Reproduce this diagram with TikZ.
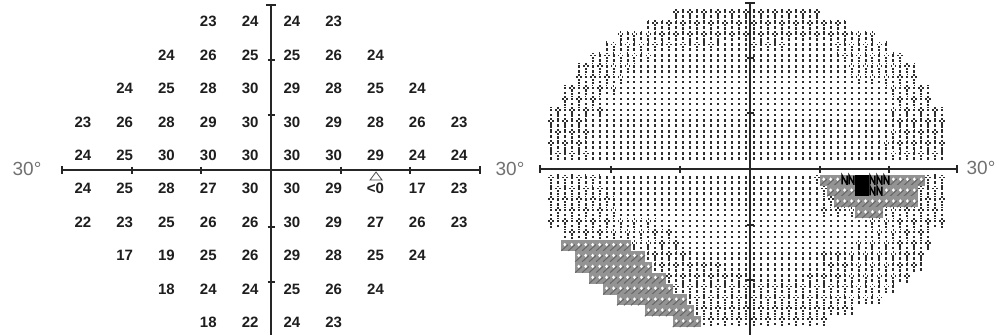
\documentclass[tikz,border=0pt]{standalone}
\usepackage{fontspec}
\setmainfont{Liberation Sans}
\definecolor{numc}{HTML}{1E1E1E}
\definecolor{labc}{HTML}{707070}
\definecolor{dotc}{HTML}{2E2E2E}
\definecolor{hatc}{HTML}{939393}
\definecolor{hatd}{HTML}{666666}
\definecolor{axc}{HTML}{262626}
\newcount\colc
\newcommand\cella[4]{%
  \fill[dotc] ({#1-1},{#2-3.9}) rectangle ({#1+1},{#2-1.3});
  \fill[dotc] ({#1-1},{#2+1.1}) rectangle ({#1+1},{#2+3.7});
}
\newcommand\cellb[4]{%
  \ifodd\numexpr#3+#4\relax
    \cella{#1}{#2}{#3}{#4}%
    \fill[dotc] ({#1-0.8},{#2-5.6}) rectangle ({#1+0.8},{#2-4.4});
  \else
    \fill[dotc] ({#1-0.9},{#2-5.4}) rectangle ({#1+0.9},{#2-3.6});
    \fill[dotc] ({#1-2.9},{#2-3.4}) rectangle ({#1-1.1},{#2-1.6});
    \fill[dotc] ({#1+1.1},{#2-3.4}) rectangle ({#1+2.9},{#2-1.6});
    \fill[dotc] ({#1-1},{#2-1.2}) rectangle ({#1+1},{#2+1.2});
    \fill[dotc] ({#1-1},{#2+2}) rectangle ({#1+1},{#2+4.4});
  \fi
}
\newcommand\cellc[4]{%
  \fill[hatc] ({#1-3.6},{#2-5.5}) rectangle ({#1+3.6},{#2+5.5});
  \draw[hatd, line width=1pt] ({#1-3.5},{#2+5.4}) -- ({#1+3.5},{#2-1});
  \fill[white] (#1,{#2-2.6}) -- ({#1+1.5},{#2-0.8}) -- (#1,{#2+1}) -- ({#1-1.5},{#2-0.8}) -- cycle;
}
\newcommand\celld[4]{%
  \fill[hatc] ({#1-3.6},{#2-5.5}) rectangle ({#1+3.6},{#2+5.5});
  \draw[black, line width=1.5pt] ({#1-2.4},{#2+4.4}) -- ({#1-2.4},{#2-4.4}) -- ({#1+2.4},{#2+4.4}) -- ({#1+2.4},{#2-4.4});
}
\newcommand\celle[4]{%
  \fill[black] ({#1-3.6},{#2-5.5}) rectangle ({#1+3.6},{#2+5.5});
}
\newcommand\frow[3]{%
  \pgfmathsetmacro\ry{(#1<15) ? 156-10.9*(14-#1) : 180+10.9*(#1-15)}%
  \global\colc=#2\relax
  \foreach \lv/\n in {#3}{%
    \foreach \k in {1,...,\n}{%
      \pgfmathsetmacro\cx{(\the\colc<0) ? 746+6.97*(\the\colc+1) : 754+6.97*\the\colc}%
      \csname cell\lv\endcsname{\cx}{\ry}{\the\colc}{#1}%
      \global\advance\colc by 1\relax
    }%
  }%
}
\tikzset{
  num/.style={font=\fontsize{15}{18}\selectfont\bfseries, text=numc, inner sep=0pt},
  lab/.style={font=\fontsize{19}{22}\selectfont, text=labc, inner sep=0pt},
  axis/.style={draw=axc, line width=1.6pt},
  tick/.style={draw=axc, line width=1.2pt}
}
\begin{document}
\begin{tikzpicture}[x=1pt,y=-1pt]
\useasboundingbox (0,0) rectangle (999,335);
% ---------- left panel: numbers ----------
\coordinate (lw) at (62,170);
\coordinate (le) at (480,170);
\coordinate (ln) at (271,5);
\coordinate (ls) at (271,335);
\draw[axis] (lw) -- (le);
\draw[axis] (ln) -- (ls);
\foreach \x in {132,201,341,410} \draw[tick] (\x,166.5) -- (\x,173.5);
\draw[tick] (62,166) -- (62,174);
\draw[tick] (480,166) -- (480,174);
\foreach \y in {60,115,227,282} \draw[tick] (267.5,\y) -- (274.5,\y);
\draw[tick] (266,5) -- (276,5);
\foreach \j/\s/\vals in {0/3/{23,24,24,23},1/2/{24,26,25,25,26,24},2/1/{24,25,28,30,29,28,25,24},
  3/0/{23,26,28,29,30,30,29,28,26,23},4/0/{24,25,30,30,30,30,30,29,24,24},
  5/0/{24,25,28,27,30,30,29,<0,17,23},6/0/{22,23,25,26,26,30,29,27,26,23},
  7/1/{17,19,25,26,29,28,25,24},8/2/{18,24,24,25,26,24},9/3/{18,22,24,23}}{%
  \foreach \v [count=\k from 0] in \vals {%
    \pgfmathsetmacro\nx{271+41.8*(\s+\k-4.5)}%
    \pgfmathsetmacro\ny{172+33.4*(\j-4.5)}%
    \node[num] (n\j-\k) at (\nx,\ny) {\v};
  }%
}
\coordinate (tri) at (376,172);
\draw[draw=numc!80, line width=0.8pt, line join=miter] (tri) -- ++(-6,8) -- ++(12,0) -- cycle;
\node[lab] (l1) at (27,169) {30°};
\node[lab] (l2) at (510,169) {30°};
\node[lab] (l3) at (981,168) {30°};
% ---------- right panel: grey scale ----------
\frow{1}{-11}{b/21}
\frow{2}{-15}{b/29}
\frow{3}{-19}{b/37}
\frow{4}{-21}{b/10,a/1,b/6,a/4,b/5,a/7,b/8}
\frow{5}{-23}{b/9,a/26,b/10}
\frow{6}{-25}{b/9,a/30,b/10}
\frow{7}{-25}{b/7,a/32,b/10}
\frow{8}{-27}{b/8,a/38,b/7}
\frow{9}{-27}{b/6,a/41,b/6}
\frow{10}{-29}{b/8,a/41,b/8}
\frow{11}{-29}{b/6,a/43,b/8}
\frow{12}{-29}{b/6,a/43,b/8}
\frow{13}{-29}{b/6,a/41,b/10}
\frow{14}{-29}{b/6,a/43,b/8}
\frow{15}{-29}{b/8,a/30,b/1,c/3,d/2,e/2,d/3,c/5,b/3}
\frow{16}{-29}{b/8,a/31,b/1,c/4,e/2,d/2,c/5,b/4}
\frow{17}{-29}{b/10,a/29,b/2,c/12,b/4}
\frow{18}{-29}{b/10,a/29,b/5,c/4,b/9}
\frow{19}{-29}{b/16,a/30,b/11}
\frow{20}{-27}{b/16,a/28,b/9}
\frow{21}{-27}{c/10,b/7,a/25,b/11}
\frow{22}{-25}{c/10,b/7,a/18,b/15}
\frow{23}{-25}{c/11,b/10,a/14,b/15}
\frow{24}{-23}{c/11,b/12,a/8,b/15}
\frow{25}{-21}{c/10,b/32}
\frow{26}{-19}{c/10,b/28}
\frow{27}{-15}{c/7,b/23}
\frow{28}{-11}{c/4,b/18}
\coordinate (rw) at (540,169);
\coordinate (re) at (957,169);
\coordinate (rn) at (750,3);
\coordinate (rs) at (750,335);
\draw[axis] (rw) -- (re);
\draw[axis] (rn) -- (rs);
\foreach \x in {611,680,820,889} \draw[tick] (\x,165.5) -- (\x,172.5);
\draw[tick] (540,165) -- (540,173);
\draw[tick] (957,165) -- (957,173);
\foreach \y in {58,113,225,280} \draw[tick] (746.5,\y) -- (753.5,\y);
\draw[tick] (745,3) -- (755,3);
\end{tikzpicture}
\end{document}
